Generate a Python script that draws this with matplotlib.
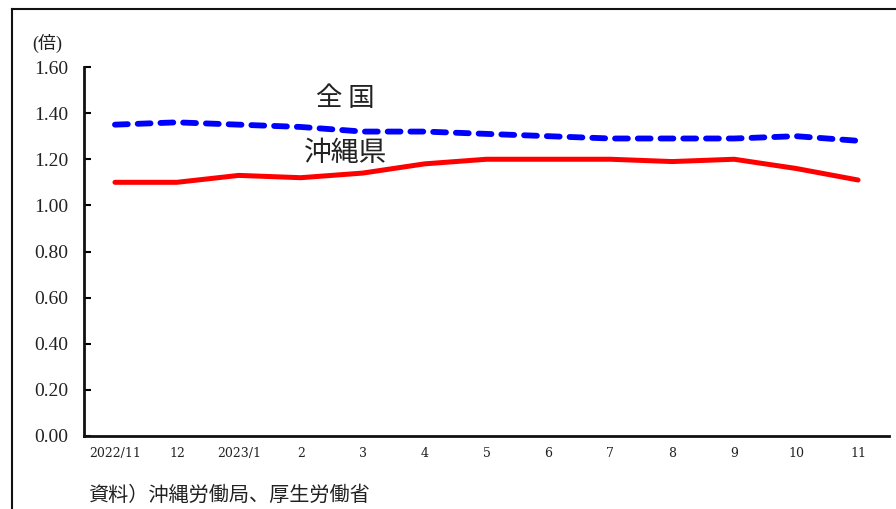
import matplotlib
matplotlib.use("Agg")
import matplotlib.pyplot as plt
from matplotlib.lines import Line2D

plt.rcParams['font.family'] = ['Liberation Serif', 'Noto Sans CJK JP', 'DejaVu Sans']

months = ["2022/11", "12", "2023/1", "2", "3", "4", "5", "6", "7", "8", "9", "10", "11"]
national = [1.35, 1.36, 1.35, 1.34, 1.32, 1.32, 1.31, 1.30, 1.29, 1.29, 1.29, 1.30, 1.28]
okinawa = [1.10, 1.10, 1.13, 1.12, 1.14, 1.18, 1.20, 1.20, 1.20, 1.19, 1.20, 1.16, 1.11]
y_ticks = [0.0, 0.2, 0.4, 0.6, 0.8, 1.0, 1.2, 1.4, 1.6]

fig = plt.figure(figsize=(8.96, 5.09), dpi=100)
ax = fig.add_axes([84 / 896, 1 - 436 / 509, 805 / 896, 369 / 509])

x = list(range(len(months)))
ax.plot(x, okinawa, color="#ff0000", lw=3.6, solid_capstyle="round", solid_joinstyle="round")
ax.plot(x, national, color="#0000ff", lw=4.2, linestyle=(0, (2.2, 1.7)),
        dash_capstyle="round")

ax.set_xlim(-0.5, len(months) - 0.5)
ax.set_ylim(0, 1.6)
ax.set_yticks(y_ticks)
ax.set_yticklabels([f"{v:.2f}" for v in y_ticks], fontsize=14, color="#222222")
ax.set_xticks(x)
ax.set_xticklabels(months, fontsize=9, color="#222222", family=["DejaVu Serif"])
ax.tick_params(axis="y", direction="in", length=5, width=1.5, pad=11)
ax.tick_params(axis="x", length=0, pad=8)

for side in ("top", "right"):
    ax.spines[side].set_visible(False)
for side in ("left", "bottom"):
    ax.spines[side].set_linewidth(2)
    ax.spines[side].set_color("#111111")

ax.text(3.72, 1.465, "全 国", fontsize=19, ha="center", va="center",
        family=["Noto Sans CJK JP"], color="#222222")
ax.text(3.73, 1.225, "沖縄県", fontsize=20, ha="center", va="center",
        family=["Noto Sans CJK JP"], color="#222222")

fig.text(32 / 896, 1 - 43 / 509, "(倍)", fontsize=13, ha="left", va="center",
         family=["Liberation Serif", "Noto Sans CJK JP"], color="#222222")
fig.text(88 / 896, 1 - 495 / 509, "資料）沖縄労働局、厚生労働省", fontsize=14.5,
         ha="left", va="center", family=["Noto Sans CJK JP"], color="#222222")

# outer frame (left and top edges)
fig.add_artist(Line2D([12 / 896, 12 / 896], [0, 1 - 9 / 509], transform=fig.transFigure,
                      color="#111111", lw=1.5))
fig.add_artist(Line2D([12 / 896, 1], [1 - 9 / 509, 1 - 9 / 509], transform=fig.transFigure,
                      color="#111111", lw=1.5))

fig.savefig("out.png", dpi=100)
